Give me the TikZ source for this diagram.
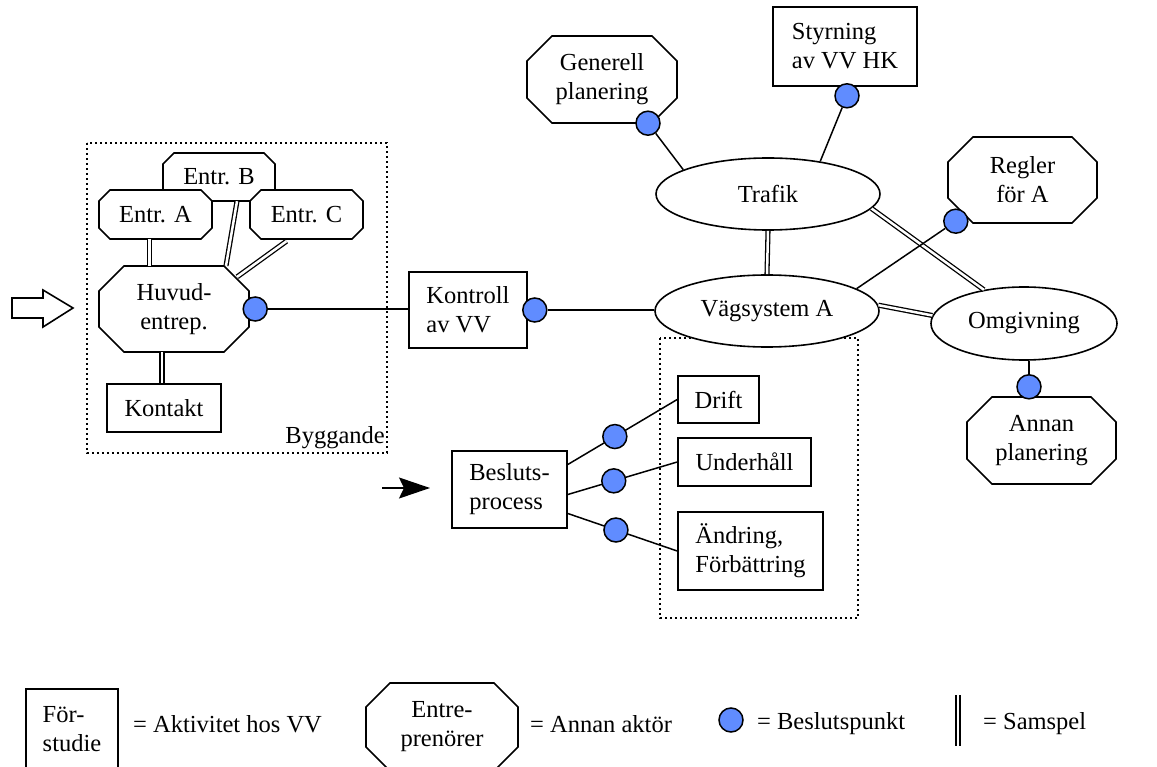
\documentclass[tikz,border=0pt]{standalone}
\usepackage{fontspec}
\setmainfont{Liberation Serif}
\usetikzlibrary{arrows.meta,calc,shapes.geometric}
\definecolor{dotblue}{RGB}{96,140,255}
\tikzset{
  shapeline/.style={line width=1.6pt, line join=miter},
  actbox/.style={draw, line width=1.6pt, fill=white, align=left, inner sep=0pt},
  octtext/.style={align=center, inner sep=0pt},
  ellnode/.style={draw, ellipse, line width=1.6pt, fill=white, inner sep=0pt, minimum width=224pt, minimum height=72pt},
  conn/.style={line width=1.5pt},
  samspel/.style={double, double distance=2.5pt, line width=1.3pt},
  dotpt/.style={circle, draw, line width=1.5pt, fill=dotblue, minimum size=24pt, inner sep=0pt},
  dotframe/.style={line width=1.7pt, dash pattern=on 1.7pt off 3.3pt},
  lbl/.style={anchor=west, inner sep=0pt},
}
% name, cx, cy, half width, half height, cut, text
\newcommand{\octnode}[7]{%
  \filldraw[shapeline, fill=white] ({#2-#4+#6},{#3-#5}) -- ({#2+#4-#6},{#3-#5}) -- ({#2+#4},{#3-#5+#6}) -- ({#2+#4},{#3+#5-#6}) -- ({#2+#4-#6},{#3+#5}) -- ({#2-#4+#6},{#3+#5}) -- ({#2-#4},{#3+#5-#6}) -- ({#2-#4},{#3-#5+#6}) -- cycle;
  \node[octtext, minimum width={2*#4}, minimum height={2*#5}] (#1) at (#2,#3) {#7};
}
\begin{document}
\begin{tikzpicture}[x=1pt,y=-1pt, font=\fontsize{24.5}{29}\selectfont]
\useasboundingbox (0,0) rectangle (1157,767);

% dotted frames
\draw[dotframe] (87,143) rectangle (387,453);
\draw[dotframe] (660,338) rectangle (858,618);
\node[anchor=south east, inner sep=0pt] (byg) at (385,449) {Byggande};

% hollow entry arrow
\draw[shapeline, fill=white] (12,298) -- (43,298) -- (43,290) -- (73,308) -- (43,327) -- (43,318) -- (12,318) -- cycle;

% black arrow
\coordinate (arrS) at (382,488);
\coordinate (arrE) at (430,488);
\draw[conn, -{Stealth[length=31pt, width=21pt, inset=5pt]}] (arrS) -- (arrE);

% left cluster
\octnode{eb}{219}{177}{56}{24}{11}{Entr. B}
\octnode{ea}{155.5}{214.5}{56.5}{24.5}{11}{Entr. A}
\octnode{ec}{306.5}{214.5}{56.5}{24.5}{11}{Entr. C}
\octnode{hu}{174}{309}{75}{43}{25}{Huvud-\\entrep.}
\node[actbox, minimum width=114pt, minimum height=48pt] (kt) at (164,408) {Kontakt};

% middle
\node[actbox, minimum width=118pt, minimum height=76pt] (ko) at (468,310) {Kontroll\\av VV};
\node[actbox, minimum width=115pt, minimum height=77pt] (be) at (509.5,489.5) {Besluts-\\process};

% top right
\octnode{ge}{602}{79.5}{75}{43.5}{25}{Generell\\planering}
\node[actbox, minimum width=144pt, minimum height=79pt] (st) at (845,46.5) {Styrning\\av VV HK};
\node[ellnode] (tr) at (768,194) {Trafik};
\octnode{re}{1022.5}{180}{74.5}{43}{25}{Regler\\för A}
\node[ellnode] (va) at (767,311) {Vägsystem A};
\node[ellnode, minimum width=186pt, minimum height=73pt] (om) at (1024,323.5) {Omgivning};
\octnode{ap}{1041.5}{440.5}{74.5}{43.5}{25}{Annan\\planering}

% activity boxes
\node[actbox, minimum width=81pt, minimum height=47pt] (dr) at (718.5,399.5) {Drift};
\node[actbox, minimum width=133pt, minimum height=48pt] (uh) at (744.5,462) {Underhåll};
\node[actbox, minimum width=145pt, minimum height=78pt] (ae) at (750.5,551) {Ändring,\\Förbättring};

% samspel connectors
\draw[samspel] ([xshift=-6pt]ea.south) -- ([xshift=-6pt]ea.south |- hu.north);
\draw[samspel] ([xshift=18pt]eb.south) -- ([xshift=52pt]hu.north);
\draw[samspel] ([xshift=-20pt, yshift=-2pt]ec.south) -- ([xshift=-12pt,yshift=-11pt]hu.north east);
\draw[samspel] ([xshift=-2pt]kt.north |- hu.south) -- ([xshift=-2pt]kt.north);
\draw[samspel] (tr.south) -- (va.north);
\draw[samspel] (tr.-8) -- (om.140);
\draw[samspel] (va.3) -- (om.175);

% decision points and plain connectors
\node[dotpt] (dh) at ([xshift=6pt]hu.east) {};
\draw[conn] (dh) -- (dh -| ko.west);
\node[dotpt] (dk) at ([xshift=7pt]ko.east) {};
\draw[conn] (dk) -- (dk -| va.west);
\node[dotpt] (dg) at ([xshift=46pt]ge.south) {};
\draw[conn] (dg) -- (tr.164);
\node[dotpt] (ds) at ([xshift=2pt, yshift=-9pt]st.south) {};
\draw[conn] (ds) -- (tr.32);
\node[dotpt] (dre) at ([xshift=8pt, yshift=2pt]re.south west) {};
\draw[conn] (dre) -- (va.14);
\node[dotpt] (dan) at ([xshift=-12.5pt, yshift=10pt]ap.north) {};
\draw[conn] (dan) -- (dan |- om.south);

\draw[conn] ([yshift=25pt]be.east) -- (dr.west) node[dotpt, pos=0.43] (db1) {};
\draw[conn] ([yshift=-5pt]be.east) -- (uh.west) node[dotpt, pos=0.42] (db2) {};
\draw[conn] ([yshift=-24pt]be.east) -- (ae.west) node[dotpt, pos=0.44] (db3) {};

% legend
\node[actbox, minimum width=92pt, minimum height=81pt] (lg1) at (72,729.5) {För-\\studie};
\node[lbl] (lt1) at (133,724) {= Aktivitet hos VV};
\octnode{lg2}{442}{727}{76}{44}{24}{Entre-\\prenörer}
\node[lbl] (lt2) at (530,724) {= Annan aktör};
\node[dotpt] (lg3) at (731,720) {};
\node[lbl] (lt3) at (757,724) {= Beslutspunkt};
\coordinate (ls1) at (958,695);
\coordinate (ls2) at (958,746);
\draw[samspel] (ls1) -- (ls2);
\node[lbl] (lt4) at (983,724) {= Samspel};
\end{tikzpicture}
\end{document}
